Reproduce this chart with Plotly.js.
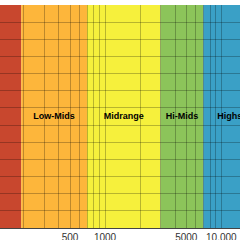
<!DOCTYPE html>
<html>
<head>
<meta charset="utf-8">
<script src="https://cdn.plot.ly/plotly-3.0.1.min.js"></script>
<style>html,body{margin:0;padding:0;background:#fff;}#chart{width:240px;height:240px;}</style>
</head>
<body>
<div id="chart"></div>
<script>
// Frequency bands (Hz)
const bandNames  = ["Lows", "Low-Mids", "Midrange", "Hi-Mids", "Highs"];
const bandStart  = [20, 190, 700, 3000, 7000];
const bandEnd    = [190, 700, 3000, 7000, 20000];
const bandColors = ["#C8472E", "#FDB63B", "#F6F03C", "#8CC45A", "#3AA0C6"];

// Grid / tick frequencies and their labels
const gridFreqs  = [100,200,300,400,500,600,700,800,900,1000,2000,3000,4000,5000,6000,7000,8000,9000,10000,20000];
const gridLabels = ["","","","","500","","","","","1000","","","","5000","","","","","10,000",""];

// Vertical extent of the band panel
const yMin = 0, yMax = 13, yLabel = 6.5;

const shapes = bandNames.map((n, i) => ({
  type: "rect", xref: "x", yref: "y", layer: "below",
  x0: bandStart[i], x1: bandEnd[i], y0: yMin, y1: yMax,
  fillcolor: bandColors[i], line: {width: 0}
}));

const labelX = bandNames.map((n, i) => Math.sqrt(bandStart[i] * bandEnd[i]));
const labelY = bandNames.map(() => yLabel);

const traces = [{
  type: "scatter", mode: "text",
  x: labelX, y: labelY, text: bandNames,
  textfont: {family: "Liberation Sans, Arial, sans-serif", size: 9, color: "#000"},
  texttemplate: "<b>%{text}</b>",
  hoverinfo: "skip", showlegend: false, cliponaxis: true
}];

const layout = {
  width: 240, height: 240,
  margin: {l: 0, r: 0, t: 5, b: 12, pad: 0},
  paper_bgcolor: "#fff", plot_bgcolor: "#fff",
  showlegend: false,
  shapes: shapes,
  xaxis: {
    type: "log",
    range: [Math.log10(125), Math.log10(14480)],
    tickmode: "array", tickvals: gridFreqs, ticktext: gridLabels,
    showgrid: true, gridcolor: "rgba(0,0,0,0.25)", gridwidth: 1,
    showline: true, linecolor: "#444", linewidth: 1,
    ticks: "", zeroline: false,
    tickfont: {family: "Liberation Sans, Arial, sans-serif", size: 10, color: "#333"}
  },
  yaxis: {
    range: [yMin, yMax], dtick: 1, tick0: 0,
    showgrid: true, gridcolor: "rgba(0,0,0,0.25)", gridwidth: 1,
    showticklabels: false, ticks: "", zeroline: false, showline: false
  },
  font: {family: "Liberation Sans, Arial, sans-serif"}
};

Plotly.newPlot("chart", traces, layout, {displayModeBar: false, staticPlot: true});
</script>
</body>
</html>
